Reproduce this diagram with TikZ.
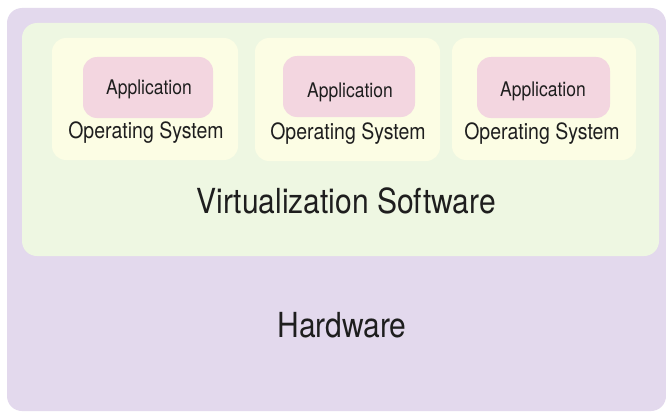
\documentclass[tikz,border=0pt]{standalone}
\usepackage{fontspec}
\usepackage{graphicx}
\setmainfont{TeX Gyre Heros}
\definecolor{hwpurple}{HTML}{E3D9ED}
\definecolor{vmgreen}{HTML}{EEF7E2}
\definecolor{osyellow}{HTML}{FCFDE4}
\definecolor{apppink}{HTML}{F3D6E0}
\definecolor{txt}{HTML}{1E1E1E}
\newcommand{\tallt}[1]{\scalebox{1}[1.15]{#1}}
\begin{document}
\begin{tikzpicture}[x=1pt,y=-1pt,
  layer/.style={rounded corners=15pt, draw=none},
  osbox/.style={fill=osyellow, rounded corners=14pt},
  appbox/.style={fill=apppink, rounded corners=14pt},
  smalltxt/.style={text=txt, font=\fontsize{17.5}{20}\selectfont, inner sep=0pt},
  ostxt/.style={text=txt, font=\fontsize{19.5}{22}\selectfont, inner sep=0pt},
  bigtxt/.style={text=txt, font=\fontsize{30}{34}\selectfont, inner sep=0pt}]
\useasboundingbox (0,0) rectangle (666,412);
\fill[white] (0,0) rectangle (666,412);
\fill[layer, fill=hwpurple] (7,8) rectangle (666,411);
\fill[layer, fill=vmgreen] (22,23) rectangle (659,256);
% VM boxes
\fill[osbox] (52,38) rectangle (238,160);
\fill[osbox] (255,38) rectangle (440,161);
\fill[osbox] (452,38) rectangle (636,160);
\fill[appbox] (83,57) rectangle (213,118);
\fill[appbox] (283,56) rectangle (415,117);
\fill[appbox] (477,57) rectangle (610,118);
\node[smalltxt] (app1) at (149,89) {\tallt{Application}};
\node[smalltxt] (app2) at (350,92) {\tallt{Application}};
\node[smalltxt] (app3) at (543,91) {\tallt{Application}};
\node[ostxt] (os1) at (146,133) {\tallt{Operating System}};
\node[ostxt] (os2) at (348,134) {\tallt{Operating System}};
\node[ostxt] (os3) at (542,134) {\tallt{Operating System}};
\node[bigtxt] (virt) at (346,201) {\tallt{Virtualization Software}};
\node[bigtxt] (hw) at (342,325) {\tallt{Hardware}};
\end{tikzpicture}
\end{document}
